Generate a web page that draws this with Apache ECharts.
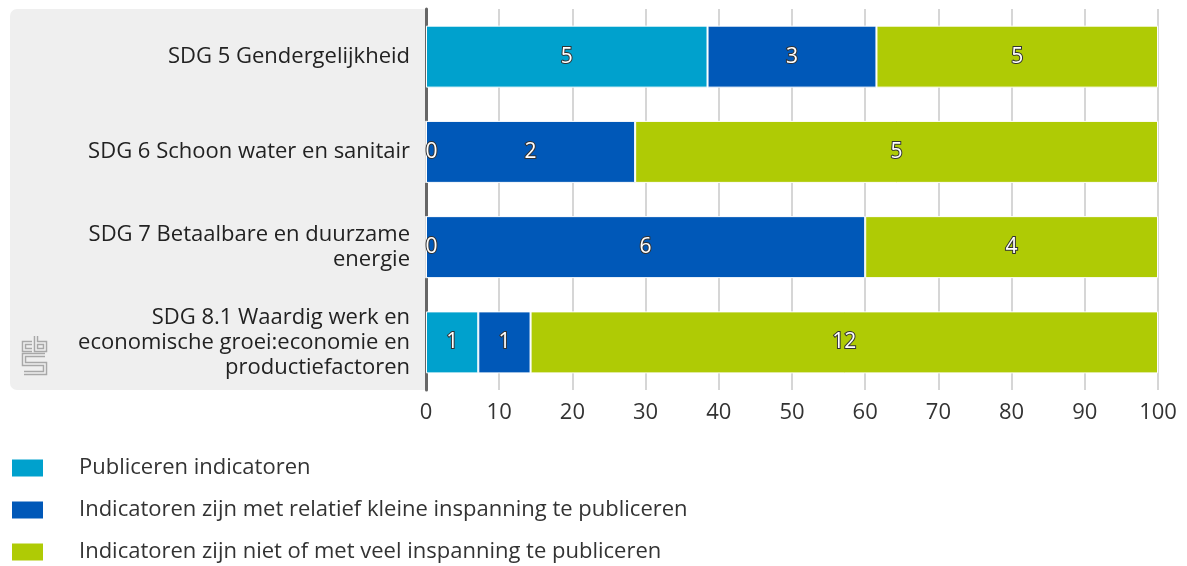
<!DOCTYPE html>
<html>
<head>
<meta charset="utf-8">
<title>SDG indicatoren</title>
<script src="https://cdn.jsdelivr.net/npm/echarts@6/dist/echarts.min.js"></script>
<style>
  html, body { margin: 0; padding: 0; background: #fff; }
  #chart { width: 1187px; height: 566px; }
</style>
</head>
<body>
<div id="chart"></div>
<script>
  // categorieen (regels afgebroken zoals in de grafiek)
  var categories = [
    'SDG 5 Gendergelijkheid',
    'SDG 6 Schoon water en sanitair',
    'SDG 7 Betaalbare en duurzame\nenergie',
    'SDG 8.1 Waardig werk en\neconomische groei:economie en\nproductiefactoren'
  ]
  var seriesNames = [
    'Publiceren indicatoren',
    'Indicatoren zijn met relatief kleine inspanning te publiceren',
    'Indicatoren zijn niet of met veel inspanning te publiceren'
  ]
  // aantallen indicatoren per categorie
  var publiceren = [5, 0, 0, 1]
  var kleineInspanning = [3, 2, 6, 1]
  var veelInspanning = [5, 5, 4, 12]
  var xTicks = [0, 10, 20, 30, 40, 50, 60, 70, 80, 90, 100]

  var colors = ['#00a1cd', '#0058b8', '#afcb05']
  var counts = [publiceren, kleineInspanning, veelInspanning]

  var totals = categories.map(function (c, i) {
    return publiceren[i] + kleineInspanning[i] + veelInspanning[i]
  })

  var chart = echarts.init(document.getElementById('chart'))

  var series = counts.map(function (arr, s) {
    return {
      name: seriesNames[s],
      type: 'bar',
      stack: 'total',
      barWidth: 62,
      itemStyle: { color: colors[s], borderColor: '#fff', borderWidth: 1 },
      label: {
        show: true,
        position: 'inside',
        color: '#fff',
        fontSize: 21,
        fontFamily: 'Open Sans',
        textBorderColor: '#333',
        textBorderWidth: 2,
        formatter: function (p) { return arr[p.dataIndex] }
      },
      data: arr.map(function (v, i) {
        var item = { value: v / totals[i] * 100 }
        if (v === 0) item.label = { position: 'insideLeft', distance: 0 }
        return item
      })
    }
  })

  // cbs logo, dikke grijze lijn met dunne lichte lijn erin
  var logoPaths = [
    [[32, 343], [24, 343], [24, 350], [32, 350]],
    [[36, 336], [36, 350], [45, 350], [45, 343], [36, 343]],
    [[45, 355], [24, 355], [24, 364], [45, 364], [45, 373], [24, 373]]
  ]
  var logo = []
  logoPaths.forEach(function (pts) {
    logo.push({ type: 'polyline', z: 1, shape: { points: pts }, style: { stroke: '#a8a8a8', lineWidth: 4.5, fill: null } })
    logo.push({ type: 'polyline', z: 2, shape: { points: pts }, style: { stroke: '#efefef', lineWidth: 1.6, fill: null } })
  })

  chart.setOption({
    animation: false,
    textStyle: { fontFamily: 'Open Sans' },
    graphic: [
      {
        type: 'rect',
        z: -10,
        shape: { x: 10, y: 9, width: 416, height: 381, r: [7, 0, 0, 7] },
        style: { fill: '#efefef' }
      }
    ].concat(logo),
    legend: {
      orient: 'vertical',
      left: 10,
      top: 457,
      height: 200,
      padding: 0,
      itemWidth: 33,
      itemHeight: 19,
      itemGap: 20,
      icon: 'rect',
      textStyle: { fontSize: 22, color: '#333', padding: [0, 0, 0, 30], lineHeight: 20 },
      data: seriesNames
    },
    grid: {
      left: 426,
      right: 29,
      top: 9,
      bottom: 176
    },
    xAxis: {
      type: 'value',
      min: 0,
      max: 100,
      interval: 10,
      axisLine: { show: false },
      axisTick: { show: false },
      splitLine: { lineStyle: { color: '#c8c8c8', width: 1.5 } },
      axisLabel: {
        fontSize: 22,
        color: '#333',
        margin: 12,
        formatter: function (v) { return xTicks.indexOf(v) >= 0 ? v : '' }
      }
    },
    yAxis: {
      type: 'category',
      inverse: true,
      data: categories,
      axisLine: { lineStyle: { color: '#666', width: 3 } },
      axisTick: { show: false },
      axisLabel: {
        fontSize: 22,
        color: '#222',
        lineHeight: 25,
        margin: 16,
        align: 'right'
      }
    },
    series: series
  })
</script>
</body>
</html>
